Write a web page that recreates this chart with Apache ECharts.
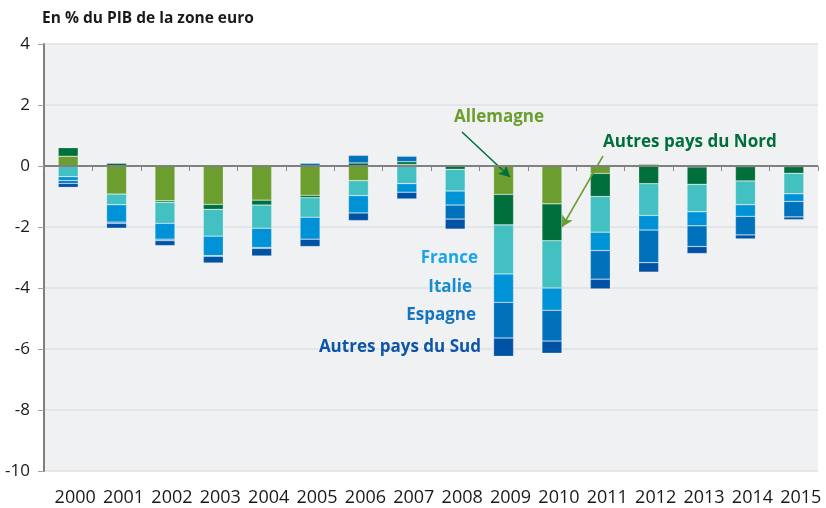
<!DOCTYPE html>
<html>
<head>
<meta charset="utf-8">
<script src="https://cdn.jsdelivr.net/npm/echarts@6/dist/echarts.min.js"></script>
<style>
html,body{margin:0;padding:0;background:#fff;}
#c{width:826px;height:508px;}
</style>
</head>
<body>
<div id="c"></div>
<script>
const years = ['2000','2001','2002','2003','2004','2005','2006','2007','2008','2009','2010','2011','2012','2013','2014','2015'];
const allemagne = [0.32, -0.92, -1.14, -1.26, -1.12, -0.96, -0.48, 0.05, 0.00, -0.93, -1.24, -0.24, 0.06, -0.03, -0.02, -0.02];
const autresNord = [0.28, 0.09, -0.05, -0.16, -0.16, -0.08, 0.10, 0.09, -0.11, -1.00, -1.21, -0.76, -0.58, -0.57, -0.47, -0.22];
const france = [-0.35, -0.35, -0.69, -0.88, -0.76, -0.64, -0.49, -0.58, -0.71, -1.61, -1.55, -1.17, -1.04, -0.90, -0.78, -0.67];
const italie = [-0.13, -0.57, -0.52, -0.64, -0.63, -0.72, -0.57, -0.28, -0.46, -0.93, -0.73, -0.60, -0.48, -0.46, -0.38, -0.25];
const espagne = [-0.09, -0.04, -0.05, -0.02, -0.03, 0.09, 0.25, 0.18, -0.46, -1.17, -1.01, -0.94, -1.07, -0.68, -0.61, -0.51];
const autresSud = [-0.13, -0.16, -0.16, -0.22, -0.25, -0.24, -0.25, -0.22, -0.33, -0.60, -0.40, -0.32, -0.31, -0.23, -0.13, -0.09];
const yTicks = [-10, -8, -6, -4, -2, 0, 2, 4];

const FONT = "'Open Sans', 'Noto Sans', sans-serif";
const names = ['Allemagne','Autres pays du Nord','France','Italie','Espagne','Autres pays du Sud'];
const colors = ['#6b9e2f','#006f3b','#42c0c2','#0092d6','#0072bb','#0053a4'];
const datas = [allemagne, autresNord, france, italie, espagne, autresSud];

const chart = echarts.init(document.getElementById('c'), null, {renderer:'canvas'});

const series = datas.map((d, i) => ({
  name: names[i],
  type: 'bar',
  stack: 'total',
  barWidth: 20,
  data: d,
  itemStyle: {color: colors[i], borderColor: 'rgba(255,255,255,0.35)', borderWidth: 0.6},
  emphasis: {disabled: true}
}));

series[0].markLine = {
  silent: true,
  symbol: ['none','none'],
  label: {show:false},
  lineStyle: {color:'#808080', width:2, type:'solid'},
  data: [{yAxis: 0}],
  z: 10
};
series[1].markLine = {
  silent: true,
  label: {show:false},
  symbol: ['none','arrow'],
  symbolSize: [9, 11],
  data: [
    [{x:462, y:132, lineStyle:{color:'#006f3b', width:1.5, type:'solid'}}, {x:510, y:177}],
    [{x:603, y:156, lineStyle:{color:'#6b9e2f', width:1.5, type:'solid'}}, {x:562, y:227}]
  ]
};

chart.setOption({
  animation: false,
  grid: {left:44, right:8, top:44, bottom:37, show:true, backgroundColor:'#f0f1f3', borderWidth:0},
  xAxis: {
    type:'category',
    data: years,
    boundaryGap: true,
    axisLine: {show:false},
    axisTick: {show:true, length:5, lineStyle:{color:'#8a8a8a', width:1}},
    axisLabel: {interval:0, color:'#1a1a1a', fontSize:18, fontFamily:FONT, margin:18, padding:[0,0,0,14], hideOverlap:false},
    splitLine: {show:false}
  },
  yAxis: {
    type:'value',
    min: yTicks[0], max: yTicks[yTicks.length-1], interval: 2,
    axisLine: {show:true, lineStyle:{color:'#7f7f7f', width:2}},
    axisTick: {show:true, length:6, lineStyle:{color:'#a0a0a0', width:1}},
    axisLabel: {color:'#1a1a1a', fontSize:17, fontFamily:FONT, margin:14},
    splitLine: {show:true, lineStyle:{color:'#e0e1e4', width:1.5}}
  },
  series: series,
  graphic: [
    {type:'text', z:100, left:42, top:11, style:{text:'En % du PIB de la zone euro', font:"bold 15.5px "+FONT, fill:'#1a1a1a'}},
    {type:'text', z:100, x:499, y:117, style:{text:'Allemagne', font:"bold 17px "+FONT, fill:'#6b9e2f', align:'center', verticalAlign:'middle'}},
    {type:'text', z:100, x:603, y:142, style:{text:'Autres pays du Nord', font:"bold 17px "+FONT, fill:'#006f3b', align:'left', verticalAlign:'middle'}},
    {type:'text', z:100, x:478, y:258, style:{text:'France', font:"bold 17px "+FONT, fill:'#1aa6e6', align:'right', verticalAlign:'middle'}},
    {type:'text', z:100, x:472, y:287, style:{text:'Italie', font:"bold 17px "+FONT, fill:'#178cd2', align:'right', verticalAlign:'middle'}},
    {type:'text', z:100, x:476, y:315, style:{text:'Espagne', font:"bold 17px "+FONT, fill:'#1474bd', align:'right', verticalAlign:'middle'}},
    {type:'text', z:100, x:481, y:347, style:{text:'Autres pays du Sud', font:"bold 17px "+FONT, fill:'#0d55a6', align:'right', verticalAlign:'middle'}}
  ]
});
</script>
</body>
</html>
